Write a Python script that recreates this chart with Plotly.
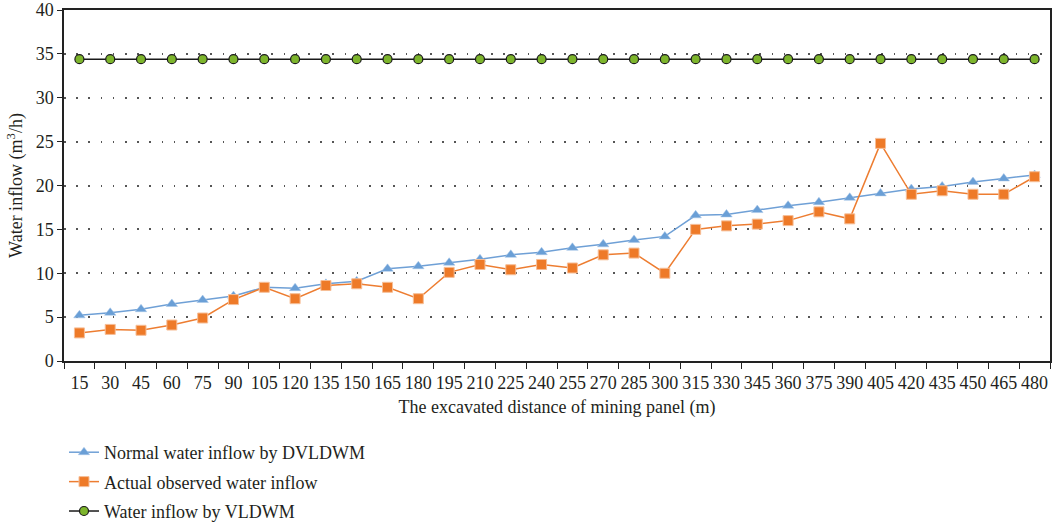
import plotly.graph_objects as go

distance = [15, 30, 45, 60, 75, 90, 105, 120, 135, 150, 165, 180, 195, 210, 225, 240,
            255, 270, 285, 300, 315, 330, 345, 360, 375, 390, 405, 420, 435, 450, 465, 480]
normal_dvldwm = [5.2, 5.5, 5.9, 6.5, 6.95, 7.4, 8.4, 8.3, 8.8, 9.1, 10.5, 10.8, 11.2, 11.6, 12.1, 12.4,
                 12.9, 13.3, 13.8, 14.2, 16.6, 16.7, 17.2, 17.7, 18.1, 18.6, 19.1, 19.6, 19.9, 20.4, 20.8, 21.2]
actual_observed = [3.2, 3.6, 3.5, 4.1, 4.9, 7.0, 8.4, 7.1, 8.6, 8.8, 8.4, 7.1, 10.1, 11.0, 10.4, 11.0,
                   10.6, 12.1, 12.3, 10.0, 15.0, 15.4, 15.6, 16.0, 17.0, 16.2, 24.8, 19.0, 19.4, 19.0, 19.0, 21.0]
vldwm = [34.4] * len(distance)

cats = [str(d) for d in distance]
FONT = "Liberation Serif"
FS = 18

fig = go.Figure()
fig.add_trace(go.Scatter(
    x=cats, y=normal_dvldwm, mode="lines+markers", name="Normal water inflow by DVLDWM",
    line=dict(color="#6FA0D6", width=1.5),
    marker=dict(symbol="triangle-up", size=10, color="#6A9FD6", line=dict(color="#A9C6E8", width=0.5)),
    legendgroup="a"))
fig.add_trace(go.Scatter(
    x=cats, y=actual_observed, mode="lines+markers", name="Actual observed water inflow",
    line=dict(color="#ED7D31", width=1.5),
    marker=dict(symbol="square", size=10, color="#EE7A28", line=dict(color="#F6BE97", width=1)),
    legendgroup="b"))
fig.add_trace(go.Scatter(
    x=cats, y=vldwm, mode="lines+markers", name="Water inflow by VLDWM",
    line=dict(color="#1a1a1a", width=1.5),
    marker=dict(symbol="circle", size=9, color="#7DB52C", line=dict(color="#1a1a1a", width=1.2)),
    legendgroup="c"))

fig.update_layout(
    width=1055, height=527,
    margin=dict(l=64, r=5, t=10, b=166, autoexpand=False),
    paper_bgcolor="white", plot_bgcolor="white",
    font=dict(family=FONT, size=FS, color="#231F20"),
    showlegend=True,
    legend=dict(x=0.0, y=-0.208, xanchor="left", yanchor="top", orientation="v",
                traceorder="grouped", tracegroupgap=3, font=dict(size=FS, family=FONT),
                bgcolor="rgba(0,0,0,0)"),
    xaxis=dict(
        type="category", range=[-0.5, len(cats) - 0.5], automargin=False,
        showline=True, linecolor="#222", linewidth=1.5, mirror=True,
        ticks="outside", tickson="boundaries", ticklen=6, tickcolor="#222",
        ticklabelstandoff=5,
        showgrid=False, tickangle=0, tickfont=dict(size=FS, family=FONT),
        title=dict(text="The excavated distance of mining panel (m)", font=dict(size=FS, family=FONT), standoff=8),
    ),
    yaxis=dict(
        range=[0, 40], dtick=5, automargin=False,
        showline=True, linecolor="#222", linewidth=1.5, mirror=True,
        ticks="outside", ticklen=5, tickcolor="#222",
        showgrid=True, gridcolor="#555", gridwidth=1.5, griddash="1.5px,10.7px",
        zeroline=False, tickfont=dict(size=FS, family=FONT),
        title=dict(text="Water inflow (m<sup>3</sup>/h)", font=dict(size=FS, family=FONT), standoff=8),
    ),
)

fig.write_html("out.html", config={"displayModeBar": False},
               post_script="document.body.style.margin='0';document.body.style.overflow='hidden';")
